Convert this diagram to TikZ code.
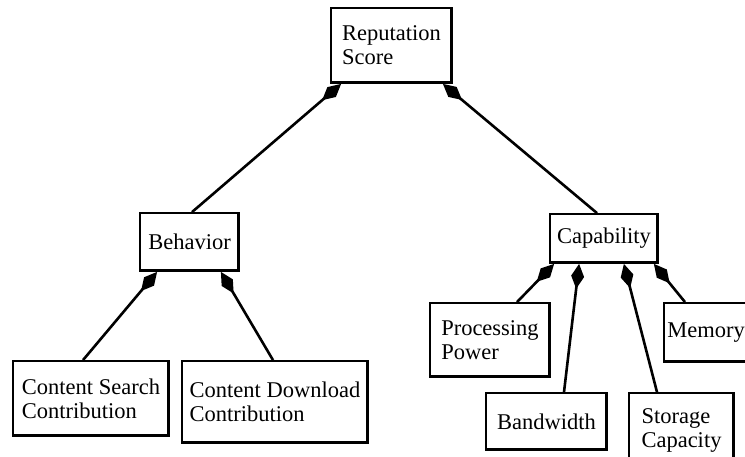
\documentclass[tikz,border=0pt]{standalone}
\usepackage{fontspec}
\setmainfont{Liberation Serif}
\usetikzlibrary{arrows.meta,calc}
\begin{document}
\begin{tikzpicture}[x=1pt,y=-1pt,
  box/.style={draw=black, line width=1.8pt, inner sep=0pt, align=left,
    font=\fontsize{22.5}{24}\selectfont,
    path picture={\draw[line width=3.2pt]
      (path picture bounding box.south west) -- (path picture bounding box.south east)
      -- (path picture bounding box.north east);}},
  link/.style={line width=2.6pt, {Diamond[length=25pt,width=13pt]}-}
]
\useasboundingbox (0,0) rectangle (745,457);
\clip (0,0) rectangle (745,457);
\node[box, minimum width=121pt, minimum height=75pt] (rep) at (391.5,45.5) {Reputation\\Score};
\node[box, minimum width=99pt, minimum height=58pt] (beh) at (189.5,242) {Behavior};
\node[box, minimum width=108pt, minimum height=49pt] (cap) at (604,238.5) {Capability};
\node[box, minimum width=156pt, minimum height=75pt] (cs) at (91,398.5) {Content Search\\Contribution};
\node[box, minimum width=186pt, minimum height=82pt] (cd) at (275,402) {Content Download\\Contribution};
\node[box, minimum width=120pt, minimum height=74pt] (pp) at (490,340) {Processing\\Power};
\node[box, minimum width=84pt, minimum height=59pt] (mem) at (706,332.5) {Memory};
\node[box, minimum width=121pt, minimum height=57pt] (bw) at (546.5,421.5) {Bandwidth};
\node[box, minimum width=105pt, minimum height=74pt] (sc) at (681.5,430) {Storage\\Capacity};

\draw[link] ([xshift=11pt]rep.south west) -- ([xshift=2.5pt]beh.north);
\draw[link] ([xshift=-10pt]rep.south east) -- ([xshift=-7pt]cap.north);
\draw[link] ([xshift=18pt]beh.south west) -- ([xshift=-8pt]cs.north);
\draw[link] ([xshift=-19pt]beh.south east) -- ([xshift=-2pt]cd.north);
\draw[link] ([xshift=5pt]cap.south west) -- ([xshift=27pt]pp.north);
\draw[link] ([xshift=30pt]cap.south west) -- ([xshift=17.5pt]bw.north);
\draw[link] ([xshift=-35pt]cap.south east) -- ([xshift=-24.5pt]sc.north);
\draw[link] ([xshift=-5pt]cap.south east) -- ([xshift=-21pt]mem.north);
\end{tikzpicture}
\end{document}
